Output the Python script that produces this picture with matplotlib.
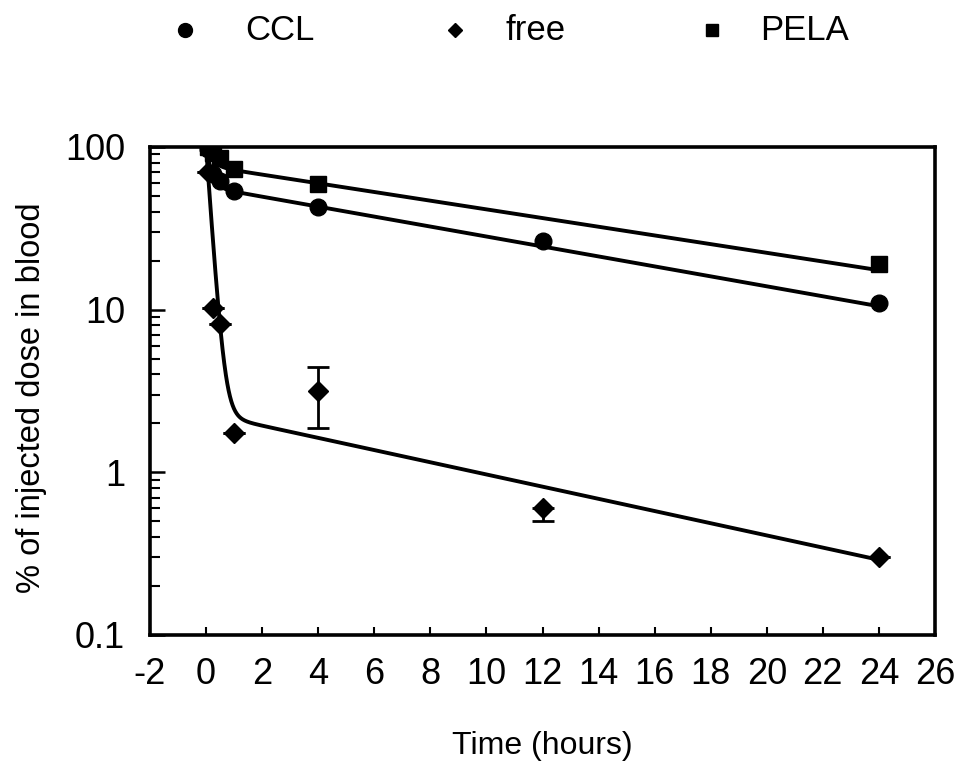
import numpy as np
import matplotlib
matplotlib.use("Agg")
import matplotlib.pyplot as plt
from matplotlib.lines import Line2D
from matplotlib.ticker import FixedLocator, NullFormatter, FixedFormatter

plt.rcParams["font.family"] = ["Liberation Sans Narrow", "Liberation Sans", "DejaVu Sans"]

# measured points (hours, % of injected dose)
ccl_t = [0.083, 0.25, 0.5, 1, 4, 12, 24]
ccl_y = [97, 68, 62, 54, 43, 26.5, 11]

free_t = [0.083, 0.25, 0.5, 1, 4, 12, 24]
free_y = [70, 10.3, 8.2, 1.75, 3.15, 0.60, 0.30]
free_err_lo = [0, 0, 0, 0, 1.28, 0.10, 0]
free_err_hi = [0, 0, 0, 0, 1.30, 0.0, 0]

pela_t = [0.083, 0.25, 0.5, 1, 4, 24]
pela_y = [100, 92, 85, 73, 59, 19]

# bi-exponential fits: A*exp(-a t) + B*exp(-b t)
ccl_fit = [43.0, 5.6, 57.0, 0.0705]
free_fit = [97.7, 5.65, 2.3, 0.0863]
pela_fit = [23.5, 4.5, 76.5, 0.0615]

x_ticks = list(range(-2, 27, 2))
y_ticks = [0.1, 1, 10, 100]
y_labels = ["0.1", "1", "10", "100"]


def biexp(t, p):
    return p[0] * np.exp(-p[1] * t) + p[2] * np.exp(-p[3] * t)


W, H = 957, 768
fig = plt.figure(figsize=(W / 100, H / 100), dpi=100)
ax = fig.add_axes([150 / W, 1 - 635 / H, 785 / W, 488 / H])

tt = np.linspace(0, 24, 2000)
for p in (ccl_fit, free_fit, pela_fit):
    ax.plot(tt, biexp(tt, p), color="black", lw=2.8, solid_capstyle="round")

ax.plot(ccl_t, ccl_y, "o", color="black", ms=12, ls="none")
ax.plot(pela_t, pela_y, "s", color="black", ms=12, ls="none")
ax.errorbar(free_t, free_y, yerr=[free_err_lo, free_err_hi], fmt="D", color="black",
            ms=10, elinewidth=2, capsize=8, capthick=2, ls="none")

ax.set_yscale("log")
ax.set_ylim(0.1, 100)
ax.set_xlim(-2, 26)

minor_y = [m * 10.0 ** e for e in (-1, 0, 1) for m in range(2, 10)]
ax.xaxis.set_major_locator(FixedLocator(x_ticks))
ax.xaxis.set_major_formatter(FixedFormatter([str(v) for v in x_ticks]))
ax.yaxis.set_major_locator(FixedLocator(y_ticks))
ax.yaxis.set_major_formatter(FixedFormatter(y_labels))
ax.yaxis.set_minor_locator(FixedLocator(minor_y))
ax.yaxis.set_minor_formatter(NullFormatter())
ax.xaxis.set_minor_locator(FixedLocator([]))

ax.tick_params(axis="x", which="major", direction="in", length=6, width=1.5,
               labelsize=26, pad=16)
ax.tick_params(axis="y", which="major", direction="in", length=11, width=1.8,
               labelsize=26, pad=18)
ax.tick_params(axis="y", which="minor", direction="in", length=7, width=1.5)
for s in ax.spines.values():
    s.set_linewidth(2.6)

fig.text(542 / W, 1 - 754 / H, "Time (hours)", fontsize=23, ha="center", va="baseline")
fig.text(32 / W, 1 - 398 / H, "% of injected dose in blood", fontsize=23.5,
         rotation=90, ha="center", va="center")

# legend row above the plot
leg_marks = [("o", 185, "CCL", 245, 10), ("D", 455, "free", 505, 7), ("s", 712, "PELA", 760, 9)]
for m, mx, lab, lx, ms in leg_marks:
    fig.add_artist(Line2D([mx / W], [1 - 30 / H], marker=m, color="black", ms=ms,
                          ls="none", transform=fig.transFigure))
    fig.text(lx / W, 1 - 30 / H, lab, fontsize=25, va="center", ha="left")

fig.savefig("out.png", dpi=100)
